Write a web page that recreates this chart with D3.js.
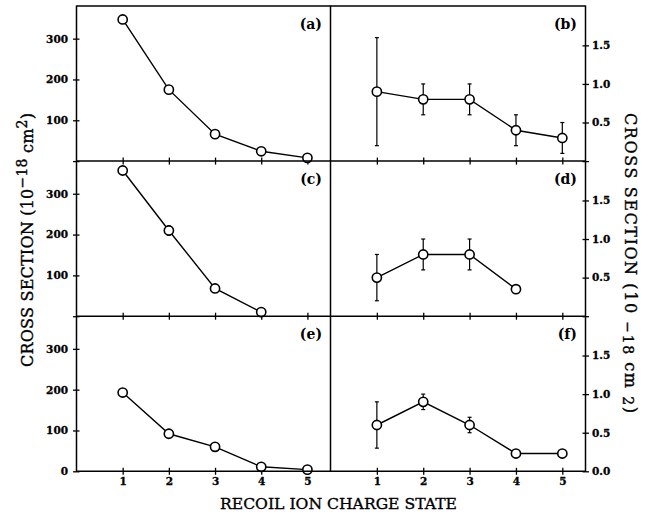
<!DOCTYPE html>
<html><head><meta charset="utf-8">
<script src="https://cdn.jsdelivr.net/npm/d3@7"></script>
<style>
html,body{margin:0;padding:0;background:#fff;}
svg{display:block;}
</style>
</head><body>
<svg id="chart" width="652" height="514"></svg>
<script>
// ---- data ----
const chargeStates = [1, 2, 3, 4, 5];
const panelLabels = ["(a)", "(b)", "(c)", "(d)", "(e)", "(f)"];
const leftTicks = [100, 200, 300];
const rightTicks = [0.5, 1.0, 1.5];
const xTickLabels = ["1", "2", "3", "4", "5"];

const aValues = [347, 175, 66, 24, 8];
const aErrLo = [null, null, null, null, null];
const aErrHi = [null, null, null, null, null];

const bValues = [0.9, 0.8, 0.8, 0.4, 0.3];
const bErrLo = [0.2, 0.6, 0.6, 0.2, 0.1];
const bErrHi = [1.6, 1.0, 1.0, 0.6, 0.5];

const cValues = [357, 210, 68, 10];
const cErrLo = [null, 199, null, null];
const cErrHi = [null, 221, null, null];

const dValues = [0.5, 0.8, 0.8, 0.35];
const dErrLo = [0.2, 0.6, 0.6, null];
const dErrHi = [0.8, 1.0, 1.0, null];

const eValues = [193, 92, 60, 11, 4];
const eErrLo = [null, null, null, null, null];
const eErrHi = [null, null, null, null, null];

const fValues = [0.6, 0.9, 0.6, 0.23, 0.23];
const fErrLo = [0.3, 0.8, 0.5, null, null];
const fErrHi = [0.9, 1.0, 0.7, null, null];

// ---- layout ----
const svg = d3.select("#chart");
const L = 76.5, M = 330.5, R = 585.5, TOP = 6, PH = 155.1;
const serif = "'DejaVu Serif', 'Liberation Serif', serif";

const xLeft = d3.scaleLinear().domain([0, 5.5]).range([L, M]);
const xRight = d3.scaleLinear().domain([0, 5.5]).range([M, R]);

const panels = [
  {lab: panelLabels[0], vals: aValues, lo: aErrLo, hi: aErrHi, side: "left", row: 0},
  {lab: panelLabels[1], vals: bValues, lo: bErrLo, hi: bErrHi, side: "right", row: 0},
  {lab: panelLabels[2], vals: cValues, lo: cErrLo, hi: cErrHi, side: "left", row: 1},
  {lab: panelLabels[3], vals: dValues, lo: dErrLo, hi: dErrHi, side: "right", row: 1},
  {lab: panelLabels[4], vals: eValues, lo: eErrLo, hi: eErrHi, side: "left", row: 2},
  {lab: panelLabels[5], vals: fValues, lo: fErrLo, hi: fErrHi, side: "right", row: 2}
];

const tickFont = "'DejaVu Serif', serif";

panels.forEach(p => {
  const top = TOP + p.row * PH, bot = top + PH;
  const isLeft = p.side === "left";
  const x = isLeft ? xLeft : xRight;
  const y = d3.scaleLinear().domain(isLeft ? [0, 380] : [0, 2.01]).range([bot, top]);
  const g = svg.append("g");
  const last = p.row === 2;

  // y axis
  const yTicks = isLeft ? [0].concat(leftTicks) : [0].concat(rightTicks);
  const yAxis = (isLeft ? d3.axisLeft(y) : d3.axisRight(y))
    .tickValues(yTicks)
    .tickSizeInner(3.5).tickSizeOuter(0).tickPadding(isLeft ? 5 : 3)
    .tickFormat(d => {
      if (d === 0) return last ? (isLeft ? "0" : "0.0") : "";
      return isLeft ? d3.format("d")(d) : d3.format(".1f")(d);
    });
  const ya = g.append("g")
    .attr("transform", `translate(${isLeft ? L : R},0)`)
    .call(yAxis);
  ya.select(".domain").remove();
  ya.selectAll(".tick line").attr("x1", isLeft ? 3 : -3).attr("stroke", "#000").attr("stroke-width", 1.3);
  ya.selectAll(".tick text").attr("font-family", tickFont).attr("font-weight", "bold")
    .attr("font-size", 10.5).attr("fill", "#000").attr("stroke", "#000").attr("stroke-width", 0.3);

  // x axis at bottom of panel
  const xAxis = d3.axisBottom(x).tickValues(chargeStates)
    .tickSizeInner(3.5).tickSizeOuter(0).tickPadding(2.5)
    .tickFormat((d, i) => last ? xTickLabels[i] : "");
  const xa = g.append("g").attr("transform", `translate(0,${bot})`).call(xAxis);
  xa.select(".domain").remove();
  xa.selectAll(".tick line").attr("y1", -3.5).attr("stroke", "#000").attr("stroke-width", 1.3);
  xa.selectAll(".tick text").attr("font-family", tickFont).attr("font-weight", "bold")
    .attr("font-size", 10.5).attr("fill", "#000").attr("stroke", "#000").attr("stroke-width", 0.3);

  // connecting line
  const pts = p.vals.map((v, i) => [chargeStates[i], v]);
  g.append("path")
    .attr("d", d3.line().x(d => x(d[0])).y(d => y(d[1]))(pts))
    .attr("fill", "none").attr("stroke", "#000").attr("stroke-width", 1.4);

  // error bars
  p.vals.forEach((v, i) => {
    if (p.lo[i] == null) return;
    const cx = x(chargeStates[i]);
    g.append("line").attr("x1", cx).attr("x2", cx)
      .attr("y1", y(p.lo[i])).attr("y2", y(p.hi[i]))
      .attr("stroke", "#000").attr("stroke-width", 1.2);
    [p.lo[i], p.hi[i]].forEach(e => {
      g.append("line").attr("x1", cx - 2).attr("x2", cx + 2)
        .attr("y1", y(e)).attr("y2", y(e))
        .attr("stroke", "#000").attr("stroke-width", 1.2);
    });
  });

  // markers
  g.selectAll("circle.m").data(pts).enter().append("circle")
    .attr("cx", d => x(d[0])).attr("cy", d => y(d[1])).attr("r", 4.6)
    .attr("fill", "#fff").attr("stroke", "#000").attr("stroke-width", 1.6);

  // panel label
  g.append("text")
    .attr("x", (isLeft ? M : R) - 8.5).attr("y", top + 23)
    .attr("text-anchor", "end")
    .attr("font-family", serif).attr("font-weight", "bold").attr("font-size", 14)
    .text(p.lab);
});

// frame lines
const frame = svg.append("g").attr("stroke", "#000").attr("stroke-width", 1.5).attr("fill", "none");
[L, M, R].forEach(xx => frame.append("line").attr("x1", xx).attr("x2", xx).attr("y1", TOP - 0.5).attr("y2", TOP + 3 * PH + 0.5));
[0, 1, 2, 3].forEach(k => frame.append("line").attr("x1", L).attr("x2", R)
  .attr("y1", TOP + k * PH).attr("y2", TOP + k * PH));

// axis titles
const titleStyle = t => t.attr("font-family", serif).attr("fill", "#000")
  .attr("stroke", "#000").attr("stroke-width", 0.35);

titleStyle(svg.append("text")
  .attr("x", 338.5).attr("y", 509)
  .attr("text-anchor", "middle")
  .attr("font-size", 15.7)
  .attr("textLength", 237).attr("lengthAdjust", "spacingAndGlyphs")
  .text("RECOIL ION CHARGE STATE"));

const lt = titleStyle(svg.append("text")
  .attr("transform", "translate(33,240) rotate(-90)")
  .attr("text-anchor", "middle")
  .attr("font-size", 16)
  .attr("textLength", 254).attr("lengthAdjust", "spacing"));
lt.append("tspan").text("CROSS SECTION (10");
lt.append("tspan").attr("dy", -6).attr("font-size", 14).text("\u221218");
lt.append("tspan").attr("dy", 6).text(" cm");
lt.append("tspan").attr("dy", -6).attr("font-size", 14).text("2");
lt.append("tspan").attr("dy", 6).text(")");

const rt = titleStyle(svg.append("text")
  .attr("transform", "translate(625,263) rotate(90)")
  .attr("text-anchor", "middle")
  .attr("font-size", 16)
  .attr("textLength", 300).attr("lengthAdjust", "spacing"));
rt.append("tspan").text("CROSS SECTION (10 ");
rt.append("tspan").attr("dy", 2).attr("font-size", 14).text("\u221218");
rt.append("tspan").attr("dy", -2).text(" cm ");
rt.append("tspan").attr("dy", 2).attr("font-size", 14).text("2");
rt.append("tspan").attr("dy", -2).text(")");
</script>
</body></html>
